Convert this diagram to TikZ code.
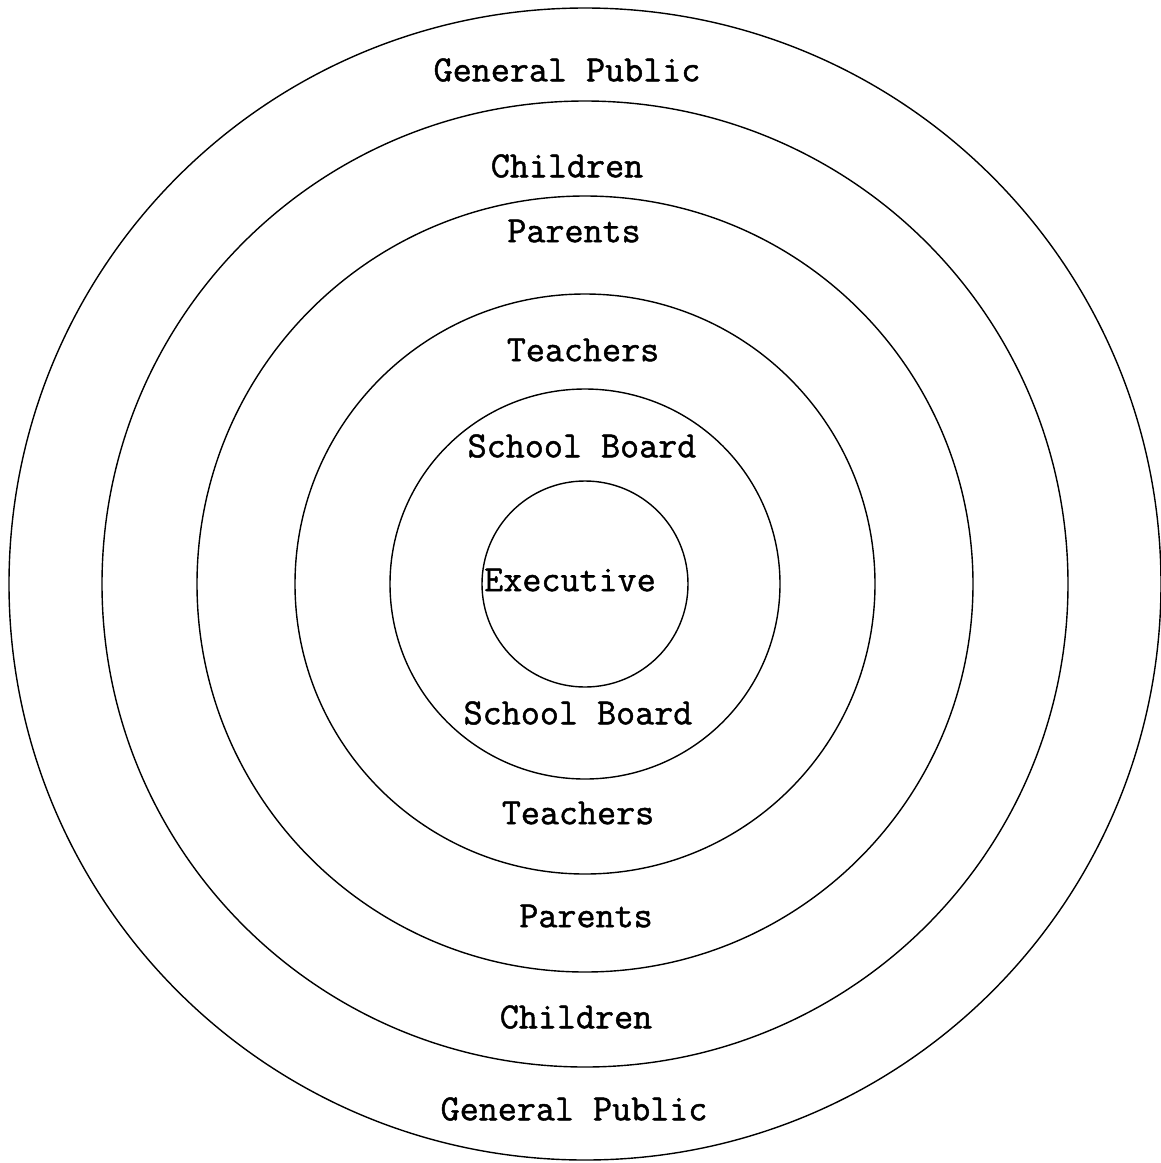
\documentclass[tikz,border=0pt]{standalone}
\usepackage{fontspec}
\newfontfamily\typew{Latin Modern Mono}[FakeBold=1.3]
\begin{document}
\begin{tikzpicture}[x=1pt,y=-1pt,
  ring/.style={circle,draw,line width=1.4pt,inner sep=0pt,minimum size=#1},
  lbl/.style={font=\typew\fontsize{37}{40}\selectfont,inner sep=0pt,anchor=center}]
\useasboundingbox[fill=white] (0,0) rectangle (1161,1163);
\coordinate (ctr) at (585,584);
\node[ring=1152pt] (r1) at (ctr) {};
\node[ring=966pt] (r2) at (ctr) {};
\node[ring=776pt] (r3) at (ctr) {};
\node[ring=580pt] (r4) at (ctr) {};
\node[ring=390pt] (r5) at (ctr) {};
\node[ring=206pt] (r6) at (ctr) {};
\node[lbl] (gp1) at (567,70) {General Public};
\node[lbl] (ch1) at (567,166) {Children};
\node[lbl] (pa1) at (574,231) {Parents};
\node[lbl] (te1) at (583,350) {Teachers};
\node[lbl] (sb1) at (582,446) {School Board};
\node[lbl] (ex) at (570,580) {Executive};
\node[lbl] (sb2) at (578,713) {School Board};
\node[lbl] (te2) at (578,813) {Teachers};
\node[lbl] (pa2) at (586,916) {Parents};
\node[lbl] (ch2) at (576,1017) {Children};
\node[lbl] (gp2) at (574,1109) {General Public};
\end{tikzpicture}
\end{document}
